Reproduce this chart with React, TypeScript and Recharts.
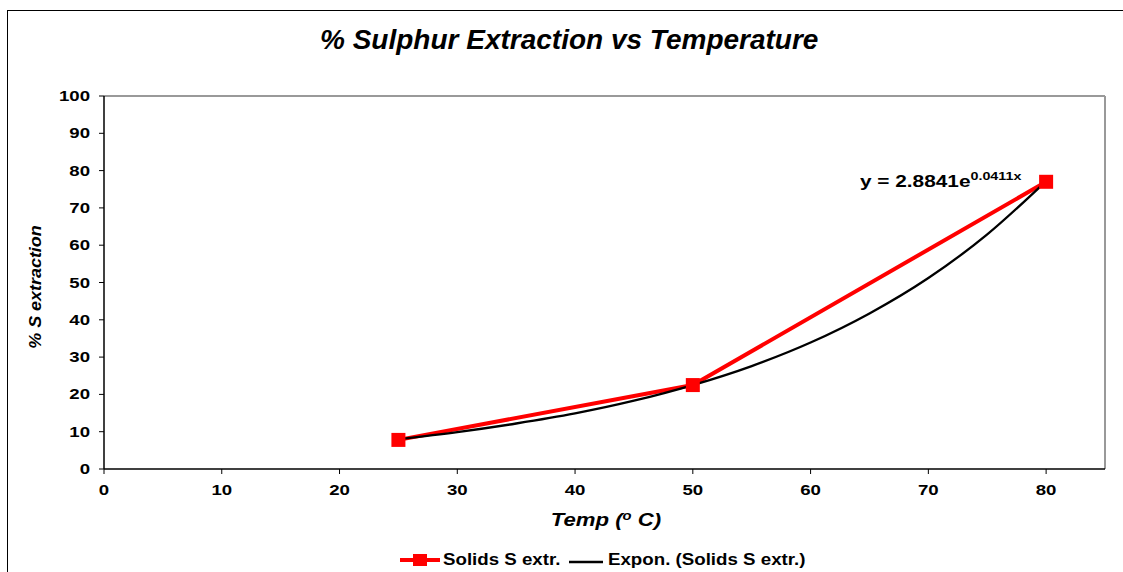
import React from "react";
import { LineChart, Line, XAxis, YAxis, ReferenceLine } from "recharts";

const FONT = '"Liberation Sans", Arial, sans-serif';

// measured points
const temps = [25, 50, 80];
const extraction = [7.8, 22.5, 77];

// exponential trendline
const trendTemps = [25, 30, 35, 40, 45, 50, 55, 60, 65, 70, 75, 80];
const trendValues = [8.0, 9.9, 12.2, 14.9, 18.3, 22.5, 27.6, 33.9, 41.7, 51.2, 62.9, 77.2];

const xTicks = [0, 10, 20, 30, 40, 50, 60, 70, 80];
const yTicks = [0, 10, 20, 30, 40, 50, 60, 70, 80, 90, 100];

const measured = temps.map((t, i) => ({ x: t, y: extraction[i] }));
const trend = trendTemps.map((t, i) => ({ x: t, y: trendValues[i] }));

const TICK_FS = 14;
const TICK_STRETCH = 1.33;

// bold digits, stretched a bit wider like the original
function Tick(props: any) {
  const { x, y, payload, side } = props;
  const s = String(payload.value);
  const w = s.length * 0.556 * TICK_FS * TICK_STRETCH;
  const isX = side === "x";
  return (
    <text
      x={x}
      y={isX ? y + 21 : y + 5}
      textAnchor={isX ? "middle" : "end"}
      textLength={w}
      lengthAdjust="spacingAndGlyphs"
      fontSize={TICK_FS}
      fontWeight={700}
      fontFamily={FONT}
      fill="#000"
    >
      {s}
    </text>
  );
}

function SquareDot(props: any) {
  const { cx, cy, index } = props;
  if (cx == null || cy == null) return null;
  return <rect key={index} x={cx - 7} y={cy - 7} width={14} height={14} fill="#ff0000" />;
}

function Txt({ left, top, size, scale = 1, italic = false, children }: any) {
  return (
    <div
      style={{
        position: "absolute",
        left,
        top,
        fontSize: size,
        lineHeight: 1,
        fontWeight: 700,
        fontStyle: italic ? "italic" : "normal",
        whiteSpace: "nowrap",
        transform: `scaleX(${scale})`,
        transformOrigin: "0 0",
      }}
    >
      {children}
    </div>
  );
}

export default function App() {
  return (
    <div style={{ position: "absolute", left: 0, top: 0, width: 1123, height: 572, background: "#fff", fontFamily: FONT, overflow: "hidden" }}>
      {/* outer frame (top + left edges visible) */}
      <div style={{ position: "absolute", left: 7, top: 10, width: 1116, height: 562, borderTop: "1.5px solid #000", borderLeft: "1.5px solid #000" }} />

      <Txt left={320} top={26} size={28} scale={1.0} italic>
        % Sulphur Extraction vs Temperature
      </Txt>

      <LineChart width={1123} height={572} data={measured} margin={{ top: 96, right: 18, left: 54, bottom: 73 }} style={{ position: "absolute", left: 0, top: 0 }}>
        <XAxis
          type="number"
          dataKey="x"
          domain={[0, 85]}
          ticks={xTicks}
          allowDataOverflow
          height={30}
          tick={<Tick side="x" />}
          tickSize={5}
          tickMargin={0}
          axisLine={{ stroke: "#000", strokeWidth: 1.5 }}
          tickLine={{ stroke: "#000" }}
        />
        <YAxis
          type="number"
          dataKey="y"
          domain={[0, 100]}
          ticks={yTicks}
          width={50}
          tick={<Tick side="y" />}
          tickSize={5}
          tickMargin={9}
          axisLine={{ stroke: "#000", strokeWidth: 1.5 }}
          tickLine={{ stroke: "#000" }}
        />
        <ReferenceLine y={100} stroke="#999" strokeWidth={2} />
        <ReferenceLine x={85} stroke="#999" strokeWidth={2} />
        <Line
          data={measured}
          dataKey="y"
          type="linear"
          stroke="#ff0000"
          strokeWidth={4}
          dot={SquareDot}
          activeDot={false}
          isAnimationActive={false}
        />
        <Line
          data={trend}
          dataKey="y"
          type="monotone"
          stroke="#000"
          strokeWidth={2.3}
          dot={false}
          activeDot={false}
          isAnimationActive={false}
        />
      </LineChart>

      {/* trendline equation */}
      <Txt left={860} top={174} size={16} scale={1.3}>
        y = 2.8841e<span style={{ fontSize: 11, position: "relative", top: -7 }}>0.0411x</span>
      </Txt>

      {/* y-axis title */}
      <div style={{ position: "absolute", left: 36, top: 287, transform: "translate(-50%, -50%) rotate(-90deg) scaleX(1.12)", fontSize: 16, lineHeight: 1, fontWeight: 700, fontStyle: "italic", whiteSpace: "nowrap" }}>
        % S extraction
      </div>

      {/* x-axis title */}
      <div style={{ position: "absolute", left: 606, top: 520, transform: "translate(-50%, -50%) scaleX(1.23)", fontSize: 18, lineHeight: 1, fontWeight: 700, fontStyle: "italic", whiteSpace: "nowrap" }}>
        Temp (<span style={{ fontSize: 12, position: "relative", top: -6 }}>o</span> C)
      </div>

      {/* legend */}
      <svg width={40} height={16} style={{ position: "absolute", left: 400, top: 552 }}>
        <line x1={0} y1={8} x2={40} y2={8} stroke="#ff0000" strokeWidth={4} />
        <rect x={13} y={2} width={14} height={12} fill="#ff0000" />
      </svg>
      <Txt left={443} top={551} size={17} scale={1.1}>Solids S extr.</Txt>
      <svg width={34} height={16} style={{ position: "absolute", left: 569, top: 554 }}>
        <line x1={0} y1={8} x2={34} y2={8} stroke="#000" strokeWidth={2.5} />
      </svg>
      <Txt left={608} top={551} size={17} scale={1.1}>Expon. (Solids S extr.)</Txt>
    </div>
  );
}
